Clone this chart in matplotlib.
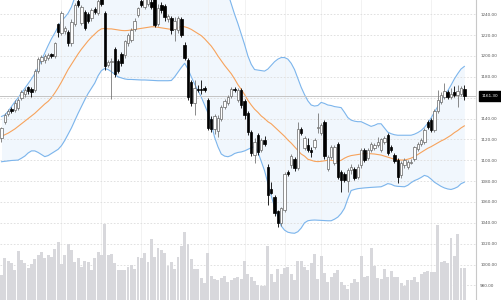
import numpy as np
import matplotlib
matplotlib.use('Agg')
import matplotlib.pyplot as plt
import matplotlib.transforms as mtransforms

# daily candles (open, high, low, close)
opens = [1121, 1137, 1144, 1149, 1148, 1150, 1160, 1164, 1170, 1168,
         1167, 1186, 1195, 1196, 1198, 1202, 1200, 1231, 1222, 1224,
         1223, 1212, 1231, 1253, 1232, 1242, 1240, 1236, 1245, 1241,
         1256, 1241, 1191, 1194, 1207, 1195, 1202, 1201, 1212, 1215,
         1226, 1239, 1253, 1247, 1250, 1252, 1256, 1231, 1249, 1248,
         1235, 1236, 1226, 1225, 1235, 1211, 1196, 1175, 1155, 1168,
         1168, 1169, 1158, 1140, 1130, 1128, 1140, 1151, 1155, 1162,
         1168, 1158, 1167, 1157, 1145, 1127, 1105, 1124, 1110, 1119,
         1094, 1072, 1065, 1051, 1040, 1052, 1089, 1095, 1101, 1093,
         1130, 1112, 1115, 1110, 1113, 1131, 1126, 1137, 1092, 1103,
         1097, 1116, 1089, 1087, 1080, 1091, 1092, 1084, 1095, 1110,
         1102, 1110, 1112, 1115, 1110, 1118, 1124, 1113, 1105, 1100,
         1086, 1095, 1094, 1097, 1101, 1111, 1116, 1118, 1137, 1139,
         1129, 1147, 1156, 1161, 1165, 1161, 1165, 1163, 1164, 1168]
highs = [1132, 1145, 1149, 1151, 1158, 1160, 1167, 1169, 1171, 1170,
         1188, 1199, 1201, 1202, 1203, 1203, 1213, 1232, 1243, 1229,
         1225, 1235, 1251, 1256, 1249, 1244, 1242, 1246, 1247, 1256,
         1258, 1243, 1196, 1198, 1209, 1197, 1204, 1215, 1222, 1227,
         1236, 1247, 1255, 1258, 1260, 1255, 1258, 1250, 1252, 1250,
         1240, 1238, 1237, 1238, 1237, 1213, 1198, 1177, 1177, 1172,
         1177, 1171, 1160, 1142, 1144, 1143, 1153, 1159, 1163, 1170,
         1170, 1169, 1169, 1159, 1147, 1129, 1121, 1126, 1121, 1123,
         1096, 1079, 1067, 1052, 1055, 1089, 1091, 1106, 1103, 1137,
         1132, 1123, 1121, 1113, 1121, 1145, 1136, 1139, 1105, 1115,
         1115, 1118, 1091, 1089, 1093, 1096, 1094, 1096, 1112, 1112,
         1112, 1118, 1117, 1122, 1121, 1123, 1126, 1115, 1107, 1102,
         1099, 1102, 1100, 1101, 1114, 1118, 1121, 1131, 1139, 1141,
         1149, 1167, 1165, 1174, 1167, 1169, 1171, 1172, 1171, 1172]
lows = [1118, 1135, 1142, 1145, 1146, 1148, 1158, 1161, 1164, 1161,
        1165, 1184, 1192, 1193, 1196, 1198, 1198, 1218, 1220, 1221,
        1210, 1210, 1229, 1247, 1230, 1225, 1232, 1234, 1240, 1239,
        1248, 1187, 1189, 1159, 1180, 1184, 1190, 1198, 1210, 1213,
        1224, 1237, 1247, 1245, 1248, 1245, 1228, 1229, 1241, 1234,
        1233, 1221, 1214, 1222, 1218, 1196, 1158, 1152, 1143, 1165,
        1164, 1165, 1129, 1127, 1125, 1122, 1138, 1149, 1153, 1160,
        1165, 1156, 1150, 1140, 1124, 1104, 1097, 1105, 1108, 1114,
        1057, 1068, 1047, 1036, 1037, 1050, 1085, 1093, 1090, 1091,
        1124, 1110, 1108, 1103, 1111, 1126, 1124, 1101, 1090, 1101,
        1095, 1082, 1070, 1079, 1070, 1087, 1081, 1082, 1093, 1098,
        1100, 1108, 1110, 1113, 1108, 1116, 1105, 1108, 1097, 1078,
        1083, 1093, 1092, 1096, 1099, 1109, 1114, 1116, 1130, 1127,
        1127, 1145, 1154, 1159, 1159, 1159, 1161, 1151, 1162, 1158]
closes = [1131, 1143, 1147, 1147, 1155, 1158, 1165, 1167, 1166, 1165,
          1186, 1197, 1199, 1200, 1201, 1200, 1212, 1223, 1241, 1227,
          1212, 1233, 1249, 1249, 1247, 1227, 1234, 1244, 1242, 1253,
          1250, 1190, 1194, 1195, 1183, 1186, 1193, 1214, 1220, 1225,
          1234, 1246, 1249, 1256, 1258, 1247, 1230, 1246, 1244, 1237,
          1238, 1225, 1234, 1236, 1220, 1198, 1161, 1155, 1169, 1167,
          1167, 1167, 1131, 1130, 1142, 1141, 1151, 1157, 1161, 1168,
          1167, 1167, 1153, 1143, 1127, 1107, 1118, 1108, 1119, 1116,
          1067, 1069, 1049, 1040, 1054, 1087, 1087, 1104, 1093, 1130,
          1126, 1121, 1110, 1108, 1119, 1132, 1134, 1104, 1103, 1113,
          1113, 1084, 1081, 1081, 1091, 1094, 1083, 1094, 1110, 1100,
          1110, 1116, 1115, 1118, 1120, 1121, 1107, 1110, 1099, 1084,
          1097, 1100, 1098, 1098, 1113, 1116, 1119, 1129, 1132, 1129,
          1147, 1158, 1163, 1166, 1161, 1164, 1163, 1166, 1169, 1161.3]
volumes = [2500, 4170, 3900, 3670, 3000, 4900, 4000, 3670, 3230, 3570,
           4100, 4500, 4830, 4170, 4500, 4270, 5100, 5770, 3600, 4500,
           5570, 5000, 3830, 4170, 3330, 3900, 3770, 2970, 4170, 4830,
           4500, 7600, 4500, 4570, 3730, 3000, 3000, 3000, 3330, 3500,
           3070, 4270, 4230, 4670, 3770, 6100, 4330, 5170, 5000, 4670,
           3430, 3770, 3100, 4270, 5430, 6770, 5570, 4100, 3100, 3100,
           2170, 1670, 4670, 2430, 2100, 2000, 2170, 2430, 1770, 2000,
           2200, 2330, 2100, 3900, 2570, 2330, 1900, 1500, 1400, 1400,
           5430, 2600, 1830, 3100, 2570, 3170, 3330, 2600, 2000, 3900,
           3900, 3330, 3000, 3670, 4600, 2100, 4430, 2670, 1830, 2330,
           2670, 3000, 1830, 1500, 1100, 1670, 2100, 1830, 4430, 2330,
           2400, 5230, 3400, 2230, 2100, 3100, 2330, 2900, 2330, 2270,
           1670, 1400, 2000, 2000, 2330, 1830, 2570, 2830, 2930, 2830,
           2830, 7500, 3830, 3930, 3670, 6200, 4400, 6600, 3200, 3170]

# bollinger bands (20, 2) as shown
bb_upper = [1142, 1143.5, 1147, 1151.5, 1156, 1160, 1164.5, 1169, 1173.5, 1178,
            1183, 1189, 1196, 1203, 1210, 1216.5, 1222, 1228, 1233.5, 1237,
            1241, 1247, 1256, 1259, 1261.5, 1263, 1265, 1267, 1268, 1267,
            1266, 1265, 1265, 1267, 1268.5, 1270, 1270, 1270.6, 1271.5, 1272.5,
            1273.7, 1275, 1276, 1277, 1278, 1279.4, 1279.6, 1278.7, 1277.7, 1276.7,
            1275.7, 1274.5, 1272, 1269.5, 1268, 1263, 1266.5, 1271, 1274, 1276,
            1278.5, 1280, 1280.5, 1282, 1283, 1282, 1276, 1268, 1260, 1250,
            1240, 1231, 1221, 1211, 1200, 1192, 1187, 1186.5, 1186, 1185.5,
            1187.5, 1191, 1194.5, 1197, 1198.5, 1198.5, 1197, 1193, 1187, 1178.5,
            1170, 1163, 1157, 1153, 1152, 1152.5, 1155.5, 1154.5, 1153, 1152.5,
            1151.5, 1151, 1150.5, 1146, 1141, 1138.5, 1137.5, 1137, 1137, 1135.5,
            1134, 1132.5, 1133.5, 1135, 1135, 1131, 1127, 1125.5, 1124.5, 1124,
            1124, 1124, 1124, 1124, 1125, 1126.5, 1128.5, 1131.5, 1135.5, 1140.5,
            1146, 1151.5, 1157, 1162, 1166.5, 1172, 1178, 1183, 1187.5, 1190]
bb_middle = [1123, 1124.5, 1126, 1128, 1130, 1132.5, 1135, 1137.5, 1140, 1142.5,
             1145, 1148, 1151, 1154, 1156.5, 1160, 1164.5, 1169.5, 1175, 1181,
             1187, 1192, 1197, 1202, 1206.5, 1210.5, 1214.5, 1218, 1221, 1224,
             1226, 1226.5, 1226, 1226, 1225.5, 1225, 1224.5, 1224.3, 1224.5, 1225,
             1225.5, 1226, 1226.5, 1227, 1227.5, 1228, 1228, 1227.5, 1227, 1226.5,
             1226, 1225.5, 1226, 1227, 1228.5, 1228, 1227, 1225.5, 1223.5, 1221.5,
             1219.5, 1216.5, 1213, 1209.5, 1205, 1200, 1195.5, 1191, 1187, 1183,
             1178, 1172.5, 1168, 1163, 1157.5, 1153, 1149, 1146, 1142.5, 1140,
             1137, 1135, 1132, 1129, 1126, 1123, 1119.5, 1116.5, 1113, 1109.5,
             1106, 1104, 1101, 1100, 1099, 1098.7, 1099, 1099.5, 1100, 1100,
             1099.5, 1099, 1100, 1102, 1103.5, 1104.5, 1105, 1105.5, 1106, 1106.5,
             1106.5, 1106.3, 1106, 1105.5, 1105, 1104, 1103, 1102, 1101, 1100.5,
             1100.2, 1100.3, 1101, 1102, 1103.5, 1105.5, 1107.5, 1109.5, 1111.5, 1113,
             1114.8, 1116.5, 1118.5, 1120, 1122, 1124, 1126.5, 1128.5, 1131, 1133]
bb_lower = [1098.6, 1099, 1099.4, 1099.8, 1100, 1100.2, 1102, 1104, 1107, 1109,
            1109, 1107.5, 1105.5, 1103.5, 1104.5, 1106.5, 1108.5, 1110.5, 1114, 1119,
            1125, 1131, 1138, 1145, 1151.5, 1158, 1164, 1169, 1174, 1181,
            1186, 1188, 1187, 1185, 1182.5, 1180, 1179, 1178, 1177.5, 1177.5,
            1177.3, 1177, 1177, 1177, 1176.8, 1176.6, 1176.4, 1176.3, 1176.3, 1176.3,
            1176.3, 1176.5, 1180, 1184.5, 1189, 1193, 1187.5, 1180, 1173, 1167,
            1160.5, 1153, 1145.5, 1135, 1122, 1113, 1106, 1104, 1103.4, 1104.5,
            1106.5, 1107.5, 1108, 1109, 1110.5, 1112, 1113, 1108, 1099, 1090,
            1078, 1066, 1055, 1046, 1037, 1033, 1031, 1030.3, 1030, 1031.5,
            1035, 1040, 1042, 1042.5, 1042.7, 1042.5, 1042.3, 1042, 1042, 1042,
            1043.5, 1045.5, 1049, 1054, 1063, 1071, 1072, 1072.8, 1073.2, 1073.5,
            1073.8, 1074, 1074.2, 1074.4, 1074.6, 1076, 1077.6, 1077, 1075.5, 1075,
            1074.8, 1074.6, 1076, 1078.5, 1080.5, 1081.8, 1083.5, 1085.5, 1084.5, 1082,
            1079, 1077, 1075, 1073.5, 1072.5, 1072, 1073, 1074.5, 1077.5, 1079]

price_ticks = [980, 1000, 1020, 1040, 1060, 1080, 1100, 1120, 1140, 1160, 1180, 1200, 1220, 1240]
grid_days = [18, 30, 42, 62, 73, 85, 96, 108, 129]
last_price = closes[-1]

x = np.arange(len(closes))
o = np.array(opens, dtype=float)
c = np.array(closes, dtype=float)
up = c >= o

fig = plt.figure(figsize=(5.01, 3.0), dpi=100)
rect = [0, 0, 476 / 501, 1]
ax = fig.add_axes(rect)
axv = fig.add_axes(rect, zorder=2)
axv.patch.set_visible(False)

# price panel
ax.fill_between(x, bb_lower, bb_upper, color='#7cb5ec', alpha=0.1, lw=0, zorder=1)
ax.plot(x, bb_upper, color='#7cb5ec', lw=0.8, zorder=2)
ax.plot(x, bb_lower, color='#7cb5ec', lw=0.8, zorder=2)
ax.plot(x, bb_middle, color='#f7a35c', lw=0.8, zorder=2)
ax.axhline(last_price, color='#c4c4c4', lw=0.7, zorder=2)

ax.vlines(x, lows, highs, colors=np.where(up, '#777777', '#000000'), lw=0.6, zorder=3)
ax.bar(x, np.maximum(np.abs(c - o), 0.7), bottom=np.minimum(o, c), width=0.72,
       color=np.where(up, 'white', 'black'), edgecolor=np.where(up, '#666666', 'black'),
       linewidth=0.5, zorder=4)

ax.set_xlim(-0.45, 142.5)
ax.set_ylim(966, 1253.7)
ax.set_xticks(grid_days)
ax.tick_params(axis='x', length=0, labelbottom=False)
ax.yaxis.tick_right()
ax.set_yticks(price_ticks)
# the last-price box sits on top of the 1160 label, so that one is left blank
ax.set_yticklabels(["" if abs(v - last_price) < 5 else f"{v:.2f}" for v in price_ticks])
ax.tick_params(axis='y', length=0, pad=3, labelsize=3, labelcolor='#555555')
ax.grid(axis='x', color='#f0f0f0', lw=0.6)
ax.grid(axis='y', color='#dcdcdc', lw=0.6, linestyle=(0, (2, 2)))
for s in ['top', 'left', 'bottom']:
    ax.spines[s].set_visible(False)
ax.spines['right'].set_color('#c8c8c8')
ax.spines['right'].set_linewidth(0.8)

trans = mtransforms.blended_transform_factory(ax.transAxes, ax.transData)
ax.text(1.012, last_price, f"{last_price:.2f}", transform=trans, ha='left', va='center',
        fontsize=3, color='white', clip_on=False,
        bbox=dict(boxstyle='square,pad=0.7', fc='black', ec='black'))

# volume panel
axv.bar(x, volumes, width=0.88, color='#d8d8dc', lw=0)
axv.set_xlim(-0.45, 142.5)
axv.set_ylim(0, 30000)
axv.set_axis_off()

fig.savefig('out.png', dpi=100)
